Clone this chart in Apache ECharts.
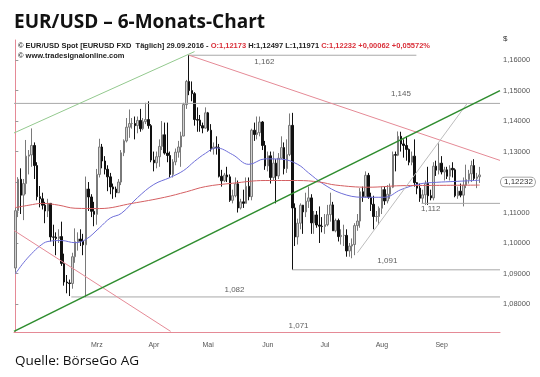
<!DOCTYPE html>
<html>
<head>
<meta charset="utf-8">
<script src="https://cdn.jsdelivr.net/npm/echarts/dist/echarts.min.js"></script>
<style>
  html, body { margin: 0; padding: 0; background: #fff; }
  #root { width: 540px; height: 377px; }
</style>
</head>
<body>
<div id="root"></div>
<script>
// EUR/USD daily candles, 03.02.2016 - 29.09.2016
const open = [
  1.0918,1.1106,1.1209,1.1157,1.1195,1.1285,1.1289,1.1320,1.1254,1.1152,
  1.1145,1.1124,1.1105,1.1130,1.1020,1.1019,1.1015,1.1021,1.0933,1.0872,
  1.0869,1.0867,1.0955,1.1004,1.1013,1.1006,1.0994,1.1177,1.1151,1.1104,
  1.1094,1.1225,1.1315,1.1269,1.1242,1.1217,1.1184,1.1177,1.1165,1.1200,
  1.1296,1.1335,1.1380,1.1392,1.1392,1.1385,1.1402,1.1375,1.1398,1.1405,
  1.1385,1.1272,1.1263,1.1283,1.1317,1.1355,1.1295,1.1287,1.1225,1.1266,
  1.1298,1.1315,1.1351,1.1454,1.1530,1.1500,1.1490,1.1405,1.1403,1.1385,
  1.1377,1.1427,1.1370,1.1310,1.1315,1.1313,1.1219,1.1204,1.1223,1.1217,
  1.1140,1.1155,1.1194,1.1115,1.1135,1.1130,1.1186,1.1152,1.1370,1.1356,
  1.1362,1.1397,1.1320,1.1253,1.1286,1.1215,1.1262,1.1220,1.1278,1.1313,
  1.1244,1.1290,1.1386,1.1115,1.1020,1.1065,1.1124,1.1102,1.1137,1.1148,
  1.1066,1.1092,1.1059,1.1055,1.1054,1.1060,1.1093,1.1125,1.1040,1.1074,
  1.1021,1.1025,1.1025,1.0974,1.0990,1.0995,1.1057,1.1072,1.1168,1.1152,
  1.1222,1.1150,1.1127,1.1087,1.1087,1.1114,1.1175,1.1138,1.1160,1.1183,
  1.1290,1.1288,1.1350,1.1325,1.1320,1.1307,1.1265,1.1285,1.1198,1.1180,
  1.1147,1.1158,1.1195,1.1155,1.1148,1.1252,1.1239,1.1262,1.1233,1.1240,
  1.1219,1.1245,1.1240,1.1155,1.1170,1.1157,1.1190,1.1208,1.1227,1.1254,
  1.1212,1.12173
]
const high = [
  1.1115,1.1216,1.1245,1.1210,1.1338,1.1305,1.1376,1.1330,1.1265,1.1187,
  1.1165,1.1135,1.1145,1.1130,1.1060,1.1035,1.1045,1.1070,1.0965,1.0895,
  1.0880,1.0968,1.1048,1.1035,1.1045,1.1030,1.1218,1.1200,1.1160,1.1135,
  1.1243,1.1342,1.1325,1.1285,1.1255,1.1230,1.1195,1.1185,1.1210,1.1305,
  1.1340,1.1410,1.1438,1.1410,1.1415,1.1415,1.1440,1.1410,1.1460,1.1465,
  1.1390,1.1300,1.1300,1.1340,1.1400,1.1395,1.1395,1.1300,1.1275,1.1310,
  1.1335,1.1365,1.1460,1.1535,1.1616,1.1530,1.1495,1.1445,1.1420,1.1395,
  1.1445,1.1430,1.1390,1.1330,1.1350,1.1325,1.1240,1.1230,1.1250,1.1225,
  1.1175,1.1215,1.1205,1.1145,1.1175,1.1215,1.1215,1.1375,1.1395,1.1415,
  1.1415,1.1400,1.1335,1.1300,1.1300,1.1300,1.1275,1.1295,1.1350,1.1330,
  1.1340,1.1425,1.1427,1.1130,1.1080,1.1130,1.1125,1.1165,1.1185,1.1160,
  1.1105,1.1105,1.1120,1.1085,1.1095,1.1125,1.1165,1.1135,1.1080,1.1080,
  1.1045,1.1060,1.1045,1.1000,1.1015,1.1065,1.1095,1.1180,1.1185,1.1235,
  1.1230,1.1165,1.1155,1.1105,1.1120,1.1185,1.1185,1.1190,1.1195,1.1300,
  1.1300,1.1366,1.1365,1.1340,1.1350,1.1310,1.1300,1.1340,1.1200,1.1195,
  1.1175,1.1205,1.1250,1.1175,1.1265,1.1270,1.1327,1.1285,1.1250,1.1250,
  1.1255,1.1265,1.1245,1.1185,1.1195,1.1215,1.1257,1.1240,1.1270,1.1275,
  1.1230,1.12497
]
const low = [
  1.0903,1.1085,1.1095,1.1075,1.1160,1.1225,1.1250,1.1210,1.1140,1.1117,
  1.1110,1.1065,1.1085,1.1005,1.0990,1.0960,1.1000,1.0925,1.0860,1.0835,
  1.0826,1.0850,1.0935,1.0975,1.0990,1.0960,1.0822,1.1105,1.1085,1.1055,
  1.1060,1.1215,1.1245,1.1225,1.1170,1.1160,1.1145,1.1150,1.1165,1.1190,
  1.1285,1.1330,1.1345,1.1375,1.1340,1.1360,1.1365,1.1370,1.1390,1.1375,
  1.1265,1.1235,1.1245,1.1250,1.1305,1.1290,1.1265,1.1215,1.1215,1.1255,
  1.1280,1.1250,1.1350,1.1440,1.1485,1.1465,1.1385,1.1365,1.1365,1.1360,
  1.1375,1.1365,1.1300,1.1290,1.1290,1.1215,1.1185,1.1200,1.1200,1.1135,
  1.1130,1.1150,1.1100,1.1110,1.1115,1.1130,1.1140,1.1140,1.1335,1.1340,
  1.1350,1.1305,1.1240,1.1235,1.1195,1.1205,1.1130,1.1210,1.1275,1.1225,
  1.1230,1.1285,1.0912,1.0990,1.0995,1.1045,1.1030,1.1085,1.1115,1.1030,
  1.1030,1.1050,1.1000,1.1035,1.1030,1.1055,1.1070,1.1040,1.1035,1.1005,
  1.0995,1.0990,1.0955,1.0955,1.0950,1.0960,1.1040,1.1050,1.1135,1.1150,
  1.1145,1.1105,1.1045,1.1070,1.1060,1.1095,1.1125,1.1130,1.1145,1.1180,
  1.1235,1.1285,1.1300,1.1280,1.1270,1.1255,1.1255,1.1185,1.1160,1.1135,
  1.1130,1.1125,1.1125,1.1140,1.1140,1.1220,1.1225,1.1225,1.1205,1.1210,
  1.1205,1.1215,1.1150,1.1145,1.1150,1.1120,1.1180,1.1195,1.1200,1.1205,
  1.1180,1.11971
]
const close = [
  1.1106,1.1209,1.1157,1.1195,1.1285,1.1289,1.1320,1.1254,1.1152,1.1145,
  1.1124,1.1105,1.1130,1.1020,1.1019,1.1015,1.1021,1.0933,1.0872,1.0869,
  1.0867,1.0955,1.1004,1.1013,1.1006,1.0994,1.1177,1.1151,1.1104,1.1094,
  1.1225,1.1315,1.1269,1.1242,1.1217,1.1184,1.1177,1.1165,1.1200,1.1296,
  1.1335,1.1380,1.1392,1.1392,1.1385,1.1402,1.1375,1.1398,1.1405,1.1385,
  1.1272,1.1263,1.1283,1.1317,1.1355,1.1295,1.1287,1.1225,1.1266,1.1298,
  1.1315,1.1351,1.1454,1.1530,1.1500,1.1490,1.1405,1.1403,1.1385,1.1377,
  1.1427,1.1370,1.1310,1.1315,1.1313,1.1219,1.1204,1.1223,1.1217,1.1140,
  1.1155,1.1194,1.1115,1.1135,1.1130,1.1186,1.1152,1.1370,1.1356,1.1362,
  1.1397,1.1320,1.1253,1.1286,1.1215,1.1262,1.1220,1.1278,1.1313,1.1244,
  1.1290,1.1386,1.1115,1.1020,1.1065,1.1124,1.1102,1.1137,1.1148,1.1066,
  1.1092,1.1059,1.1055,1.1054,1.1060,1.1093,1.1125,1.1040,1.1074,1.1021,
  1.1025,1.1025,1.0974,1.0990,1.0995,1.1057,1.1072,1.1168,1.1152,1.1222,
  1.1150,1.1127,1.1087,1.1087,1.1114,1.1175,1.1138,1.1160,1.1183,1.1290,
  1.1288,1.1350,1.1325,1.1320,1.1307,1.1265,1.1285,1.1198,1.1180,1.1147,
  1.1158,1.1195,1.1155,1.1148,1.1252,1.1239,1.1262,1.1233,1.1240,1.1219,
  1.1245,1.1240,1.1155,1.1170,1.1157,1.1190,1.1208,1.1227,1.1254,1.1212,
  1.1217,1.12232
]

// moving averages, sampled along the curves: [bar index, price]
const maBlue = [
  [0,1.0899],[3,1.0935],[6,1.0965],[9,1.0990],[12,1.1005],[17,1.1008],[22,1.1001],
  [26,1.1012],[31,1.1050],[35,1.1082],[39,1.1097],[45,1.1149],[51,1.1192],[57,1.1215],
  [62,1.1238],[66,1.1268],[70,1.1294],[74,1.1312],[80,1.1290],[86,1.1258],[92,1.1276],
  [98,1.1275],[104,1.1258],[108,1.1230],[113,1.1196],[120,1.1163],[128,1.1150],
  [136,1.1150],[142,1.1175],[149,1.1194],[155,1.1199],[162,1.1202],[171,1.1206]
]
const maRed = [
  [0,1.1116],[5,1.1124],[10,1.1130],[16,1.1124],[22,1.1114],[31,1.1113],[43,1.1130],
  [55,1.1150],[63,1.1168],[70,1.1185],[80,1.1196],[92,1.1205],[104,1.1205],[112,1.1200],
  [118,1.1190],[130,1.1183],[142,1.1188],[155,1.1189],[171,1.1190]
]

// drawn trend lines: [[bar index, price], [bar index, price]]
const upperChannel = [[-0.5,1.1361],[66,1.1628]]
const supportLine = [[-0.5,1.0710],[178.5,1.1500]]
const resistMay = [[64,1.1616],[178.5,1.1271]]
const resistFeb = [[-0.5,1.1041],[57.2,1.0710]]
const julyTrend = [[126,1.0968],[166.5,1.1459]]

// horizontal levels: price, first bar, last bar
const levelPrice = [1.1616, 1.1458, 1.1130, 1.0912, 1.0823]
const levelFrom = [64, -0.5, 149.6, 102, 20.6]
const levelTo = [147.7, 178.5, 178.5, 178.5, 178.5]
const levelText = ['1,162', '1,145', '1,112', '1,091', '1,082', '1,071']
const levelTextAt = [[91.7,1.1593],[142,1.1488],[153,1.1111],[137,1.0942],[80.7,1.0846],[104.3,1.0728]]

const monthLabels = ['Mrz', 'Apr', 'Mai', 'Jun', 'Jul', 'Aug', 'Sep']
const monthLabelIdx = [30, 51, 71, 93, 114, 135, 157]
const monthTickIdx = [19, 42, 62, 83, 104, 125, 147, 167]

const yMin = 1.0708
const yMax = 1.1666
const nCat = 179 // trading days plus the empty room right of the last bar

const cats = []
let day = new Date(Date.UTC(2016, 1, 3))
while (cats.length < nCat) {
  const wd = day.getUTCDay()
  if (wd !== 0 && wd !== 6) cats.push(day.toISOString().slice(0, 10))
  day = new Date(day.getTime() + 86400000)
}

const candles = open.map((o, i) => [o, close[i], low[i], high[i]])
const fmt = (v, d) => v.toFixed(d).replace('.', ',')

const pink = '#e58a96'
const clear = 'rgba(0,0,0,0)'
const lineSeries = (data, color, width) => ({
  type: 'line', xAxisIndex: 1, data, symbol: 'none', silent: true,
  lineStyle: { color, width }, z: 3
})

const chart = echarts.init(document.getElementById('root'))

const option = {
  animation: false,
  title: [
    {
      text: 'EUR/USD – 6-Monats-Chart', left: 9, top: 8,
      textStyle: { fontFamily: 'Open Sans', fontWeight: 'bold', fontSize: 19, color: '#111' }
    },
    {
      text: '{k|© EUR/USD Spot [EURUSD FXD  Täglich] 29.09.2016 - }{r|O:' + fmt(open[171], 5) +
        ' }{k|H:' + fmt(high[171], 5) + ' L:' + fmt(low[171], 5) + ' }{r|C:' + fmt(close[171], 5) +
        ' +0,00062 +0,05572%}\n{k|© www.tradesignalonline.com}',
      left: 13, top: 36,
      textStyle: {
        lineHeight: 10,
        rich: {
          k: { fontFamily: 'Liberation Sans', fontSize: 7.5, color: '#222', lineHeight: 10 },
          r: { fontFamily: 'Liberation Sans', fontSize: 7.5, color: '#d9303a', lineHeight: 10 }
        }
      }
    },
    {
      text: 'Quelle: BörseGo AG', left: 10, top: 349,
      textStyle: { fontFamily: 'Open Sans', fontWeight: 'normal', fontSize: 13.5, color: '#111' }
    }
  ],
  graphic: [
    { type: 'text', left: 503, top: 35, style: { text: '$', font: '8px Liberation Sans', fill: '#333' } }
  ],
  grid: { left: 14, right: 40, top: 40, bottom: 45 },
  xAxis: [
    {
      type: 'category', data: cats, boundaryGap: true,
      axisLine: { lineStyle: { color: pink, width: 1 } },
      axisTick: { length: 3, lineStyle: { color: '#aaa' }, interval: (i) => monthTickIdx.includes(i) },
      axisLabel: {
        interval: (i) => monthLabelIdx.includes(i),
        formatter: (v, i) => monthLabels[monthLabelIdx.indexOf(i)] || '',
        fontFamily: 'Liberation Sans', fontSize: 7, color: '#555', margin: 10
      },
      splitLine: { show: false }
    },
    { type: 'value', min: -0.5, max: nCat - 0.5, show: false }
  ],
  yAxis: {
    type: 'value', position: 'right', min: yMin, max: yMax, splitNumber: 10,
    splitLine: { show: false },
    axisLine: { show: true, lineStyle: { color: pink, width: 1 } },
    axisTick: { show: true, length: 3, lineStyle: { color: '#999' } },
    axisLabel: {
      showMinLabel: false, showMaxLabel: false, margin: 3,
      fontFamily: 'Liberation Sans', fontSize: 7.5, color: '#555',
      formatter: (v) => fmt(v, 5)
    }
  },
  series: [
    {
      type: 'candlestick', data: candles, barWidth: 2, silent: true,
      itemStyle: { color: '#d2d2d2', color0: '#111', borderColor: '#7a7a7a', borderColor0: '#111', borderWidth: 1 },
      markLine: {
        silent: true, symbol: 'none',
        lineStyle: { color: clear, width: 0 },
        label: {
          position: 'end', distance: 1, formatter: () => fmt(close[171], 5),
          fontFamily: 'Liberation Sans', fontSize: 8, color: '#333',
          backgroundColor: '#fff', borderColor: '#888', borderWidth: 0.8, borderRadius: 4, padding: [1, 2, 0, 3]
        },
        data: [{ yAxis: close[171] }]
      },
      z: 2
    },
    Object.assign(lineSeries(maBlue, '#6e6ed8', 1), { smooth: 0.4 }),
    Object.assign(lineSeries(maRed, '#d45f62', 1), { smooth: 0.4 }),
    ...levelPrice.map((p, i) => lineSeries([[levelFrom[i], p], [levelTo[i], p]], '#a8a8a8', 1)),
    lineSeries(upperChannel, '#93c98e', 1),
    lineSeries(resistMay, pink, 1),
    lineSeries(resistFeb, pink, 1),
    lineSeries(julyTrend, '#bdbdbd', 1),
    lineSeries(supportLine, '#2f8d2f', 1.6),
    {
      type: 'scatter', xAxisIndex: 1, symbolSize: 1, silent: true,
      itemStyle: { color: clear },
      data: levelTextAt.map((pt, i) => ({ value: pt, label: { formatter: levelText[i] } })),
      label: { show: true, position: 'inside', fontFamily: 'Liberation Sans', fontSize: 8, color: '#333' },
      z: 4
    }
  ]
}

chart.setOption(option)
</script>
</body>
</html>
